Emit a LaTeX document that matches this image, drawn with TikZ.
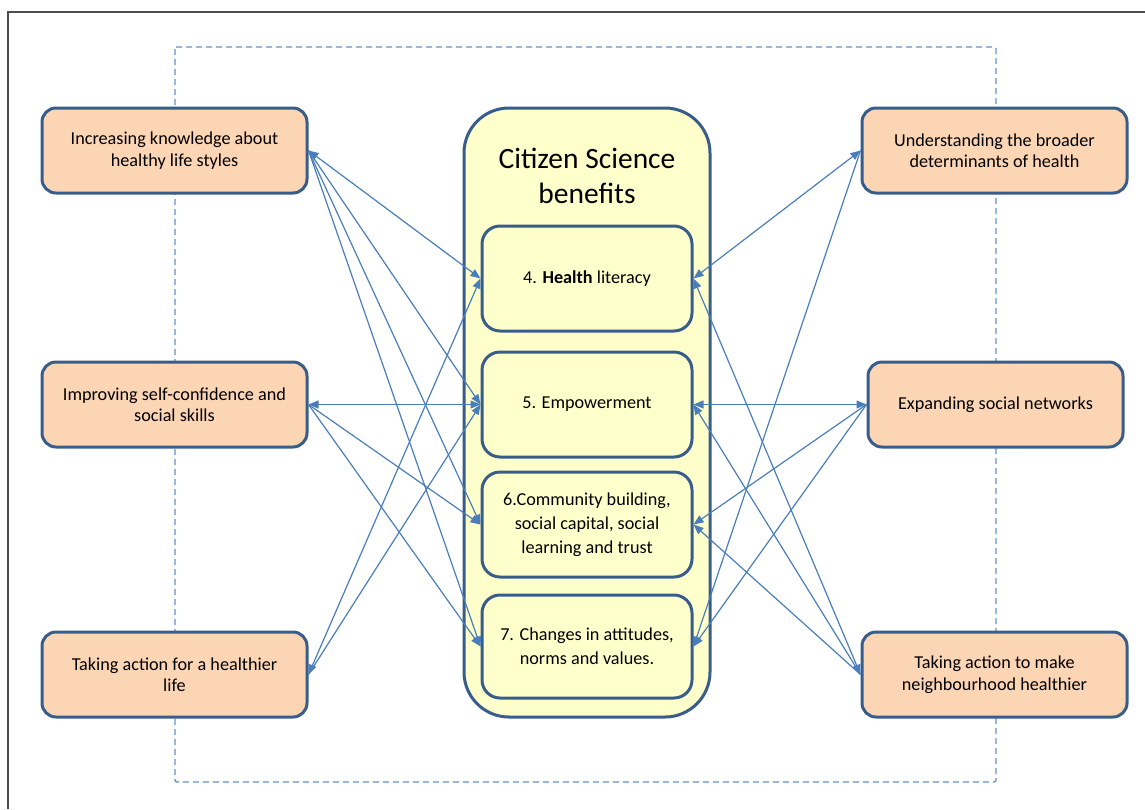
\documentclass[tikz,border=0pt]{standalone}
\usepackage{fontspec}
\setmainfont{Carlito}
\usetikzlibrary{arrows.meta}
\definecolor{boxline}{RGB}{56,93,138}
\definecolor{linkblue}{RGB}{74,126,187}
\definecolor{peach}{RGB}{252,213,181}
\definecolor{paleyellow}{RGB}{255,255,204}
\begin{document}
\begin{tikzpicture}[x=1pt,y=-1pt,
  >={Triangle[length=10pt,width=8pt]},
  outerbox/.style={draw=boxline,line width=3pt,fill=peach,rounded corners=14pt,minimum width=265pt,minimum height=85pt,align=center,font=\fontsize{18.2}{21.5}\selectfont},
  benefit/.style={draw=boxline,line width=3pt,fill=paleyellow,rounded corners=18pt,minimum width=210pt,minimum height=105pt,align=center,font=\fontsize{18.2}{24}\selectfont},
  link/.style={draw=linkblue,line width=1.2pt}]
\useasboundingbox (0,0) rectangle (1145,809);
\draw[black!70,line width=1.2pt] (8,809) -- (8,12) -- (1145,12);
\draw[linkblue!85,line width=1.3pt,dash pattern=on 6pt off 4pt,rounded corners=2pt] (175,47) rectangle (996,782);
\node[outerbox] (L1) at (174.5,150.5) {Increasing knowledge about\\healthy life styles};
\node[outerbox] (L2) at (174.5,404.5) {Improving self-confidence and\\social skills};
\node[outerbox] (L3) at (174.5,674.5) {Taking action for a healthier\\life};
\node[outerbox] (R1) at (994.5,150.5) {Understanding the broader\\determinants of health};
\node[outerbox,minimum width=255pt] (R2) at (995.5,404.5) {Expanding social networks};
\node[outerbox] (R3) at (994.5,674.5) {Taking action to make\\neighbourhood healthier};
\node[draw=boxline,line width=3pt,fill=paleyellow,rounded corners=45pt,minimum width=246pt,minimum height=609pt] (cs) at (587,412.5) {};
\node[align=center,font=\fontsize{29.5}{35}\selectfont] (title) at (587,176) {Citizen Science\\benefits};
\node[benefit] (B4) at (587,278.5) {4. \textbf{Health} literacy};
\node[benefit] (B5) at (587,404.5) {5. Empowerment};
\node[benefit] (B6) at (587,524.5) {6.Community building,\\social capital, social\\learning and trust};
\node[benefit,minimum height=103pt] (B7) at (587,646.5) {7. Changes in attitudes,\\norms and values.};
% left side
\draw[link,<->] (L1.east) -- (B4.west);
\draw[link,->] (L1.east) -- (B5.west);
\draw[link,->] (L1.east) -- (B6.west);
\draw[link,->] (L1.east) -- (B7.west);
\draw[link,<->] (L2.east) -- (B5.west);
\draw[link,->] (L2.east) -- (B6.west);
\draw[link,->] (L2.east) -- (B7.west);
\draw[link,<->] (L3.east) -- (B4.west);
\draw[link,->] (L3.east) -- (B5.west);
% right side
\draw[link,<->] (R1.west) -- (B4.east);
\draw[link,->] (R1.west) -- (B7.east);
\draw[link,<->] (R2.west) -- (B5.east);
\draw[link,->] (R2.west) -- (B6.east);
\draw[link,->] (R2.west) -- (B7.east);
\draw[link,<->] (R3.west) -- (B4.east);
\draw[link,->] (R3.west) -- (B5.east);
\draw[link,->] (R3.west) -- (B6.east);
\end{tikzpicture}
\end{document}
